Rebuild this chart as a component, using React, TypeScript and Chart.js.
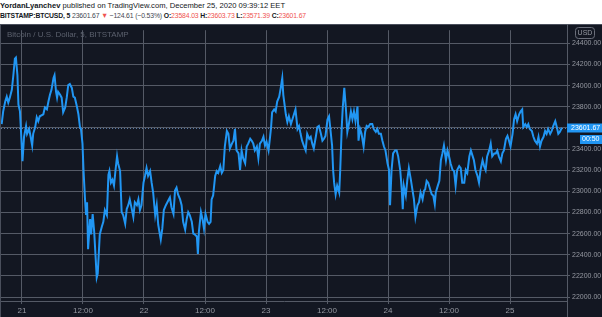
import React, { useEffect, useRef } from "react";
import { Chart, registerables } from "chart.js";
Chart.register(...registerables);

// Hours since Dec 21 00:00 (EET)
const times = [
  -4.0,-3.7,-3.3,-3.0,-2.7,-2.4,-2.0,-1.7,-1.4,-1.2,-0.9,-0.7,-0.4,-0.2,0.1,0.4,0.8,1.0,1.4,1.7,
  2.0,2.2,2.6,2.9,3.2,3.5,4.2,4.5,4.9,5.2,5.5,5.8,6.2,6.4,6.7,6.9,7.1,7.5,7.8,8.1,
  8.5,8.8,9.1,9.4,9.8,10.1,10.4,10.8,11.1,11.4,11.6,11.9,12.1,12.4,12.6,12.8,13.0,13.4,13.6,13.9,
  14.2,14.5,14.7,14.9,15.1,15.3,15.7,16.0,16.3,16.7,17.0,17.2,17.5,17.8,18.1,18.4,18.7,18.9,19.3,19.6,
  19.9,20.3,20.6,20.9,21.2,21.6,21.9,22.2,22.6,22.9,23.2,23.5,23.9,24.2,
  24.5,24.8,25.2,25.5,25.8,26.2,26.5,26.8,27.3,27.6,27.9,28.3,28.8,29.1,29.4,29.8,30.1,30.4,30.7,31.1,
  31.4,31.7,32.1,32.4,32.7,33.0,33.4,33.7,34.0,34.4,34.6,34.8,35.2,35.5,35.8,36.1,36.5,36.8,37.1,37.3,
  37.6,38.0,38.3,38.6,39.0,39.3,39.6,39.9,40.3,40.6,40.9,41.3,41.6,41.9,42.2,42.6,42.9,43.2,43.5,43.9,
  44.2,44.5,44.9,45.2,45.5,45.8,46.2,46.5,46.8,47.2,47.5,47.8,48.1,48.5,48.8,49.0,49.2,49.6,49.9,50.2,
  50.6,50.9,51.2,51.4,
  51.9,52.2,52.5,52.9,53.2,53.5,53.8,54.2,54.5,54.8,55.1,55.5,55.8,56.1,56.5,56.8,57.1,57.4,57.8,58.1,
  58.4,58.8,59.1,59.4,59.7,60.1,60.4,60.7,61.0,61.2,61.4,61.7,62.0,62.4,62.6,62.9,63.1,63.4,63.7,64.0,
  64.3,64.7,65.0,65.3,65.6,66.0,66.2,66.5,66.8,67.2,67.5,67.8,68.1,68.5,68.9,69.2,69.6,69.9,70.2,70.6,
  70.9,71.2,71.5,71.9,72.2,72.4,72.7,73.0,73.4,73.7,74.0,74.4,74.7,74.9,75.1,75.5,75.8,76.1,76.5,76.8,
  77.1,77.4,77.8,78.1,78.4,78.8,79.1,
  79.3,79.6,79.9,80.3,80.6,80.9,81.2,81.4,81.8,82.1,82.4,82.7,83.0,83.4,83.7,84.0,84.3,84.7,85.0,85.3,
  85.6,86.0,86.3,86.6,87.0,87.3,87.6,88.0,88.3,88.6,88.9,89.2,89.6,89.9,90.2,90.6,90.9,91.2,91.5,91.9,
  92.2,92.5,92.9,93.2,93.5,93.8,94.2,94.5,94.8,95.2,95.5,95.8,96.1,96.5,96.8,97.1,97.4,97.8,98.1,98.4,
  98.6,99.0,99.3,99.6,99.9,100.3,100.6,100.9,101.3,101.6,101.9,102.2,102.6,102.9,103.2,103.5,103.9,104.2,104.5,104.9,
  105.2,105.5,105.8,106.2,
];

const prices = [
  23636,23756,23849,23895,23839,23886,23960,24098,24255,24265,24098,23821,23756,23571,23285,23516,23618,23544,23590,23516,
  23433,23544,23608,23701,23664,23710,23729,23793,23775,23849,23913,23960,24071,24098,23941,23886,23941,23913,23886,23747,
  23793,23886,24006,24015,23978,23895,23886,23803,23729,23608,23590,23451,23202,22924,22776,22897,22453,22739,22592,22786,
  22619,22361,22185,22222,22407,22592,22666,22712,22823,22776,23155,23192,23082,23109,23054,23202,23331,23266,23192,22804,
  22776,22693,22832,22869,22924,22832,22758,22897,22869,22924,22823,22869,23082,23146,
  23220,23146,23192,23082,22989,22776,22869,22684,22545,22647,22823,22869,22915,22943,22850,22786,23008,23035,22971,22924,
  22869,22712,22638,22739,22804,22776,22712,22601,22592,22573,22407,22619,22804,22739,22647,22786,22712,22693,22712,22924,
  22961,23146,23192,23174,23239,23174,23202,23424,23571,23544,23405,23451,23479,23590,23387,23359,23202,23387,23313,23266,
  23424,23451,23497,23479,23451,23387,23424,23313,23451,23479,23516,23433,23470,23387,23516,23608,23747,23775,23756,23849,
  23895,23978,24071,23913,
  23729,23655,23710,23636,23682,23729,23775,23590,23618,23544,23479,23424,23387,23544,23497,23516,23451,23405,23516,23608,
  23618,23544,23479,23497,23525,23682,23710,23571,23433,23202,23082,22971,23054,22989,23202,23608,23793,23978,23793,23562,
  23636,23756,23682,23756,23664,23803,23479,23590,23544,23424,23562,23618,23608,23636,23636,23590,23562,23590,23544,23544,
  23479,23424,23387,23266,23202,22869,23202,23359,23387,23387,23331,23202,23017,22832,23054,22961,23109,23220,23109,23017,
  22924,22758,22869,22897,22989,22924,23008,
  23017,23100,23082,23017,22971,22961,22878,22989,23054,23100,23294,23359,23433,23294,23387,23331,23266,23202,23192,23054,
  23202,23239,23220,23082,23082,23202,23174,23331,23387,23340,23294,23202,23146,23082,23202,23294,23239,23202,23331,23387,
  23451,23331,23359,23359,23387,23331,23285,23359,23387,23497,23525,23479,23424,23544,23682,23729,23664,23729,23756,23775,
  23608,23636,23608,23636,23590,23571,23516,23479,23451,23516,23424,23479,23516,23571,23544,23590,23544,23571,23618,23664,
  23608,23544,23562,23601.67,
];

const priceTicks = [22000, 22200, 22400, 22600, 22800, 23000, 23200, 23400, 23600, 23800, 24000, 24200, 24400];
const timeTicks = [0, 12, 24, 36, 48, 60, 72, 84, 96];
const timeTickLabels = ["21", "12:00", "22", "12:00", "23", "12:00", "24", "12:00", "25"];
const lastPrice = 23601.67;
const lastPriceLabel = "23601.67";
const countdownLabel = "00:50";
const seriesTitle = "Bitcoin / U.S. Dollar, 5, BITSTAMP";
const currencyLabel = "USD";

const FONT = "'Liberation Sans', Arial, sans-serif";
const BG = "#131722";
const GRID = "#555a66";
const TEXT = "#9598a1";
const BLUE = "#2196f3";
const RED = "#ef5350";

export default function App() {
  const ref = useRef<HTMLCanvasElement | null>(null);

  useEffect(() => {
    const canvas = ref.current;
    if (!canvas) return;

    const decor = {
      id: "tvDecor",
      beforeDraw(chart: any) {
        const c = chart.ctx;
        c.save();
        c.fillStyle = BG;
        c.fillRect(0, 0, chart.width, chart.height);
        c.restore();
      },
      afterDraw(chart: any) {
        const c = chart.ctx;
        const ca = chart.chartArea;
        const ys = chart.scales.y;
        c.save();
        // pane borders
        c.strokeStyle = "#4a4f5c";
        c.lineWidth = 1;
        c.beginPath();
        c.moveTo(0, 0.5);
        c.lineTo(chart.width, 0.5);
        c.moveTo(0.5, 0);
        c.lineTo(0.5, chart.height);
        c.stroke();
        c.strokeStyle = GRID;
        c.beginPath();
        c.moveTo(ca.right + 0.5, 0);
        c.lineTo(ca.right + 0.5, chart.height);
        c.stroke();

        // watermark title
        c.fillStyle = "#5b606d";
        c.font = `8px ${FONT}`;
        c.textBaseline = "middle";
        c.textAlign = "left";
        c.fillText(seriesTitle, 7, 10.5);

        // last price dotted line
        const y = Math.round(ys.getPixelForValue(lastPrice)) + 0.5;
        c.strokeStyle = "rgba(110,150,200,0.8)";
        c.setLineDash([1, 2]);
        c.beginPath();
        c.moveTo(ca.left, y);
        c.lineTo(ca.right, y);
        c.stroke();
        c.setLineDash([]);

        // price box
        c.fillStyle = BLUE;
        c.fillRect(ca.right, y - 5, chart.width - ca.right, 9);
        c.fillStyle = "#ffffff";
        c.font = `7px ${FONT}`;
        c.fillText(lastPriceLabel, ca.right + 4, y);
        // countdown box
        c.fillStyle = BLUE;
        c.fillRect(580, y + 6.5, chart.width - 580, 9);
        c.fillStyle = "#ffffff";
        c.fillText(countdownLabel, 582, y + 11);

        // currency badge
        c.fillStyle = BG;
        c.fillRect(575, 3, 20, 12);
        c.strokeStyle = "#6a6e7a";
        c.beginPath();
        (c as any).roundRect ? c.roundRect(575.5, 3.5, 19, 11, 3) : c.rect(575.5, 3.5, 19, 11);
        c.stroke();
        c.fillStyle = TEXT;
        c.font = `7px ${FONT}`;
        c.textAlign = "center";
        c.fillText(currencyLabel, 585, 9.5);
        c.restore();
      },
    };

    const chart = new Chart(canvas, {
      type: "line",
      data: {
        datasets: [
          {
            data: times.map((t, i) => ({ x: t, y: prices[i] })),
            borderColor: BLUE,
            borderWidth: 2,
            pointRadius: 0,
            tension: 0,
            fill: false,
          },
        ],
      },
      options: {
        animation: false,
        responsive: false,
        events: [],
        layout: { padding: { left: 1, top: 0, right: 0, bottom: 0 }, autoPadding: false },
        plugins: { legend: { display: false }, tooltip: { enabled: false } },
        scales: {
          x: {
            type: "linear",
            min: -4.13,
            max: 107.21,
            afterBuildTicks: (s: any) => {
              s.ticks = timeTicks.map((v) => ({ value: v }));
            },
            afterFit: (s: any) => {
              s.height = 16;
            },
            ticks: {
              autoSkip: false,
              maxRotation: 0,
              color: TEXT,
              font: { size: 8, family: FONT },
              padding: 2,
              callback: (v: any) => timeTickLabels[timeTicks.indexOf(Number(v))] ?? "",
            },
            grid: { color: GRID, lineWidth: 1, drawTicks: true, tickLength: 3 },
            border: { display: true, color: GRID },
          },
          y: {
            type: "linear",
            position: "right",
            min: 21963,
            max: 24524,
            afterBuildTicks: (s: any) => {
              s.ticks = priceTicks.map((v) => ({ value: v }));
            },
            afterFit: (s: any) => {
              s.width = 35;
            },
            ticks: {
              autoSkip: false,
              color: TEXT,
              font: { size: 7, family: FONT },
              padding: 2,
              callback: (v: any) => Number(v).toFixed(2),
            },
            grid: { color: GRID, lineWidth: 1, drawTicks: true, tickLength: 3 },
            border: { display: true, color: GRID },
          },
        },
      },
      plugins: [decor],
    } as any);

    return () => chart.destroy();
  }, []);

  const line: React.CSSProperties = {
    position: "absolute",
    left: 0,
    whiteSpace: "nowrap",
    fontFamily: FONT,
    lineHeight: "10px",
    color: "#131722",
    transformOrigin: "0 0",
  };

  return (
    <div style={{ position: "fixed", left: 0, top: 0, width: 602, height: 317, background: "#ffffff", overflow: "hidden" }}>
      <div style={{ ...line, top: 1, fontSize: "8px", transform: "scaleX(0.95)" }}>
        <b>YordanLyanchev</b> published on TradingView.com, December 25, 2020 09:39:12 EET
      </div>
      <div style={{ ...line, top: 11, fontSize: "7.5px", letterSpacing: "-0.15px", transform: "scaleX(0.91)" }}>
        <b>BITSTAMP:BTCUSD, 5</b> <span style={{ color: "#434651" }}>23601.67</span>{" "}
        <span style={{ color: RED }}>▼</span> <span style={{ color: "#434651" }}>−124.61 (−0.53%)</span>{" "}
        <b>O:</b><span style={{ color: RED }}>23584.03</span> <b>H:</b><span style={{ color: RED }}>23603.73</span>{" "}
        <b>L:</b><span style={{ color: RED }}>23571.39</span> <b>C:</b><span style={{ color: RED }}>23601.67</span>
      </div>
      <canvas ref={ref} width={602} height={293} style={{ position: "absolute", left: 0, top: 24, display: "block" }} />
    </div>
  );
}
